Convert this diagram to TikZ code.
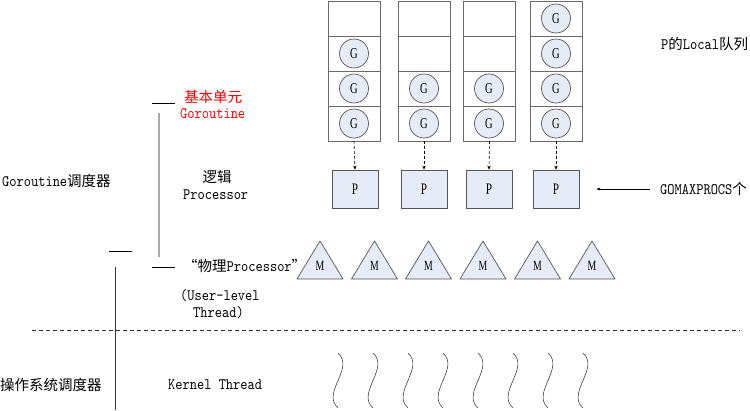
\documentclass[tikz,border=0pt]{standalone}
\usepackage{fontspec}
\setmainfont{Liberation Serif}
\newfontfamily\cjk{Noto Sans CJK SC}
\newfontfamily\nserif[FakeStretch=0.7]{Liberation Serif}
\newfontfamily\lmono[FakeStretch=0.86]{lmmono10-regular.otf}
\usetikzlibrary{arrows.meta}
\definecolor{fillb}{HTML}{E6ECF7}
\definecolor{edge}{HTML}{555555}
\definecolor{colline}{HTML}{6A6A6A}
\definecolor{brk}{HTML}{A8A8A8}
\newcommand{\zh}{\fontsize{14.5}{15}\selectfont\cjk}
\newcommand{\lt}{\fontsize{16}{16}\selectfont\lmono}
\begin{document}
\begin{tikzpicture}[x=1pt,y=-1pt,
  cell/.style={draw=colline,line width=1pt,minimum width=52pt,minimum height=35pt,inner sep=0pt,outer sep=0pt},
  gnode/.style={circle,draw=edge,line width=0.7pt,fill=fillb,minimum size=29pt,inner sep=0pt,font=\fontsize{15}{15}\selectfont\nserif},
  pnode/.style={draw=edge,line width=0.7pt,fill=fillb,minimum width=46pt,minimum height=38pt,inner sep=0pt,font=\fontsize{16}{16}\selectfont\nserif},
  mtri/.style={draw=edge,line width=0.7pt,fill=fillb,line join=round},
  mlab/.style={inner sep=0pt,font=\fontsize{14}{14}\selectfont\nserif},
  txt/.style={inner sep=0pt,anchor=west},
  dasharrow/.style={draw=black,line width=0.6pt,dash pattern=on 3pt off 2pt,-{Stealth[length=4pt,width=3.5pt]}},
  brline/.style={draw=black,line width=0.6pt},
  wave/.style={draw=black!75,line width=0.6pt}
]
\useasboundingbox (0,0) rectangle (750,410);

% local queues
\foreach \c/\x in {1/354,2/424,3/489.5,4/556}{
  \foreach \r in {1,2,3,4}{
    \node[cell] (q\c r\r) at (\x,{1+17.5+35*(\r-1)}) {};
  }
}
% G nodes
\foreach \c/\x in {1/354,2/424,3/489,4/556}{
  \foreach \r in {3,4}{
    \node[gnode] (g\c r\r) at (\x,{1+17.5+35*(\r-1)}) {G};
  }
}
\node[gnode] (g1r2) at (354,53.5) {G};
\node[gnode] (g4r2) at (556,53.5) {G};
\node[gnode] (g4r1) at (556,18.5) {G};

% P nodes
\node[pnode] (p1) at (355,189) {P};
\node[pnode] (p2) at (424,189) {P};
\node[pnode] (p3) at (489,189) {P};
\node[pnode] (p4) at (556,189) {P};
\foreach \c in {1,2,3,4}{
  \draw[dasharrow] (q\c r4.south) -- (p\c.north);
}

% M triangles
\foreach \i/\x in {1/320,2/374.5,3/428.5,4/483,5/537.5,6/592}{
  \draw[mtri] (\x-23,279) -- (\x,241) -- (\x+23,279) -- cycle;
  \node[mlab] (m\i) at (\x,266) {M};
}

% kernel threads
\foreach \x in {338,373,408,443,478,513,548,583}{
  \draw[wave] (\x,353) .. controls (\x+17,368) and (\x-17,393) .. (\x,408);
}

% separator
\draw[black!80,line width=0.6pt,dash pattern=on 4pt off 3pt] (32,330) -- (740,330);

% texts
\node[txt,text=red] (jb) at (184,97) {\zh 基本单元};
\node[txt,text=red] (gr) at (180,114) {\lt Goroutine};
\node[txt] (gs) at (2,181) {\lt Goroutine\zh 调度器};
\node[inner sep=0pt] (lj) at (217,177) {\zh 逻辑};
\node[txt] (lp) at (183,195) {\lt Processor};
\node[txt] (wl) at (183,266) {\zh “物理\lt Processor\zh ”};
\node[txt] (ul) at (180,296) {\lt (User-level};
\node[txt] (ut) at (193,313) {\lt Thread)};
\node[txt] (os) at (0,385) {\zh 操作系统调度器};
\node[txt] (kt) at (168,385) {\lt Kernel Thread};
\node[txt] (pl) at (661,44) {\lt P\zh 的\lt Local\zh 队列};
\node[txt] (gm) at (660,189) {\lt GOMAXPROCS\zh 个};

% arrow to P
\draw[line width=0.6pt,-{Stealth[length=4pt,width=3pt]}] ([xshift=-10pt]gm.west) -- ([xshift=17pt]p4.east);

% bracket lines
\coordinate (b1a) at (152,103); \coordinate (b1b) at (175,103);
\coordinate (b2a) at (109,251); \coordinate (b2b) at (132,251);
\coordinate (b3a) at (152,267); \coordinate (b3b) at (175,267);
\draw[brline] (b1a) -- (b1b);
\draw[brline] (b2a) -- (b2b);
\draw[brline] (b3a) -- (b3b);
\coordinate (v1a) at (159,113); \coordinate (v1b) at (159,257);
\draw[brk,line width=1.5pt] (v1a) -- (v1b);
\coordinate (v2a) at (115,267); \coordinate (v2b) at (115,410);
\draw[black!80,line width=0.8pt] (v2a) -- (v2b);
\end{tikzpicture}
\end{document}
